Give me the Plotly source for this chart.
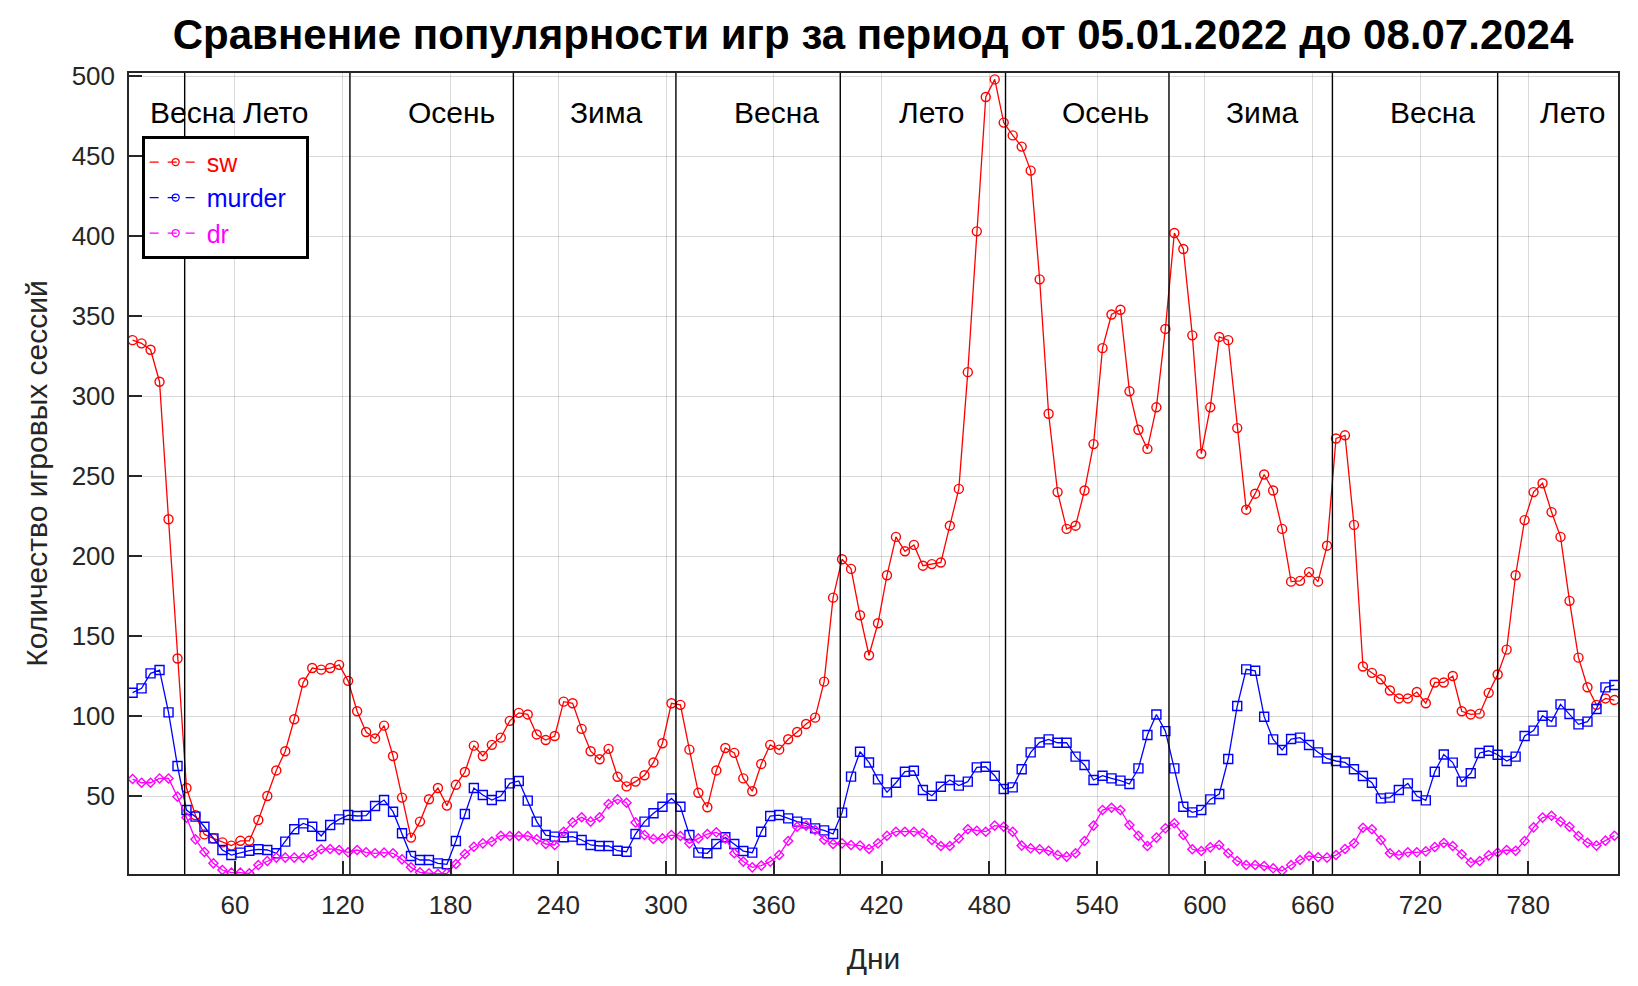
import plotly.graph_objects as go

# --- data -----------------------------------------------------------------
days = list(range(3, 829, 5))  # sampling grid (one point every 5 days)

sw = [
    335, 333, 329, 309, 223, 136, 55, 38, 26, 23.5,
    21, 19, 22, 22, 35, 50, 66, 78, 98, 121,
    130, 129, 130, 132, 122, 103, 90, 86, 94, 75,
    49, 24, 34, 48, 55, 44, 57, 65, 81.5, 75,
    82, 86.5, 97, 102, 101, 88.5, 85, 87.5, 109, 108,
    92, 78, 73, 79.5, 62, 56, 59, 63, 71, 83,
    108, 107, 79, 52, 43, 66, 80, 77, 61, 53,
    70, 82, 79, 85.5, 90, 95, 99, 121.5, 174, 198,
    192, 163, 138, 158, 188, 212, 203, 207, 194, 195,
    196, 219, 242, 315, 403, 487, 498, 471, 463, 456,
    441, 373, 289, 240, 217, 219, 241, 270, 330, 351,
    354, 303, 279, 267, 293, 342, 402, 392, 338, 264,
    293, 337, 335, 280, 229, 239, 251, 241, 217, 184,
    184.5, 190, 184, 206.5, 273.5, 275.5, 219.5, 131, 127, 123,
    116, 111, 111, 115, 108, 121, 121, 125, 103, 101,
    101.5, 114.5, 126, 141.5, 188, 222.5, 240, 245.5, 227.5, 212,
    172, 136.5, 118, 107, 111, 110,
]

murder = [
    114.6, 117.3, 126.7, 128.75, 102.3, 68.75, 41.25, 37.1, 30.8, 23.5,
    16.25, 13.1, 14.6, 15.8, 16.7, 16.25, 14.2, 21.5, 29.2, 32.9,
    30.8, 25, 31.9, 35.4, 38.1, 37.5, 37.7, 43.75, 47.5, 40.2,
    26.7, 12.5, 10, 10, 7.9, 7.3, 21.9, 38.75, 55, 50.6,
    47.5, 50, 57.9, 59.4, 47.1, 34, 25.6, 24.6, 24.2, 24.6,
    22.5, 19.4, 18.75, 18.75, 15.8, 15.2, 26.25, 34, 39.2, 43.3,
    48.5, 43.3, 25.6, 14.6, 14.2, 20, 24.2, 20, 15.6, 14.6,
    27.7, 37.5, 38.1, 36, 34, 32.9, 29.8, 28.5, 26.25, 39.6,
    62.1, 77.7, 71, 60.4, 52.3, 58.3, 65.2, 65.8, 53.75, 50.2,
    55.8, 60, 56.5, 59, 67.9, 68.3, 62.7, 54.4, 55.4, 66.7,
    77.3, 83.5, 85.4, 83.3, 83.3, 74.6, 69.4, 60, 62.7, 61,
    59.6, 57.5, 67.3, 88.1, 101, 90.6, 67.3, 43.3, 39.8, 41.25,
    47.9, 51.25, 73.1, 106.25, 129.2, 128.3, 99.6, 85.4, 78.75, 85.6,
    86.5, 81.9, 77.3, 73.5, 71.9, 71, 66.7, 62.5, 58.3, 48.5,
    49, 53.75, 57.9, 50, 47.3, 65.2, 76, 70.9, 59, 64.2,
    76.9, 78.3, 75.8, 71.9, 74.6, 87.5, 90.9, 100.2, 96.5, 107.3,
    101.25, 94.8, 96.5, 104.4, 117.9, 119.4,
]

dr = [
    60.6, 58.3, 58.3, 61, 61, 49.6, 36.5, 22.9, 15, 7.9,
    3.75, 2.1, 2.1, 1.7, 6.9, 9.4, 11.5, 11.5, 11.5, 11.5,
    13.1, 16.7, 16.9, 16.25, 14.8, 16.25, 14.8, 14.2, 14.6, 14.2,
    10.4, 5.4, 2.3, 1.7, 1.25, 1.7, 7.5, 13.75, 18.3, 20.4,
    21.5, 25.2, 25, 25, 25, 22.9, 20, 19.4, 27.7, 33.5,
    36.7, 34, 36.7, 45, 47.9, 45.8, 33.5, 25.6, 23.1, 23.5,
    25.6, 25, 20.4, 23.5, 26.25, 27.3, 23.5, 14.2, 9, 5.4,
    6.5, 9, 13.1, 21.9, 30.8, 31.5, 28.75, 22.7, 20, 20.4,
    19.4, 19, 16.9, 20.4, 25.2, 27.7, 27.7, 27.7, 26.7, 22.5,
    18.75, 18.75, 23.5, 29.2, 28.3, 27.7, 31.5, 30.8, 27.7, 19,
    17.3, 16.7, 15.8, 13.1, 12.1, 14.2, 21.9, 31.5, 41.25, 42.7,
    41.25, 31.9, 25.2, 18.75, 24, 29.8, 33, 25.6, 16.7, 15.6,
    17.9, 19.4, 14.2, 9.4, 6.9, 6.9, 6.25, 4.8, 3.3, 6.9,
    10, 12.5, 11.7, 11.5, 13.1, 16.9, 20.4, 30.2, 29.2, 22.5,
    14.2, 13.1, 14.8, 14.8, 15.4, 18.1, 20.6, 18.75, 13.6, 8.5,
    9.4, 12.9, 14.7, 16.25, 15.8, 21.9, 30.4, 36.5, 37.7, 34,
    30.8, 25, 20.8, 19, 22.1, 25.2,
]

season_bounds = [32, 124, 215, 305.5, 397, 489, 580, 671, 763]
season_names = ["Весна", "Лето", "Осень", "Зима", "Весна", "Лето",
                "Осень", "Зима", "Весна", "Лето"]
season_label_days = [11.5, 63.5, 155, 245.5, 336.5, 428.5, 519.5, 610.5, 702, 785.5]

x_ticks = [60, 120, 180, 240, 300, 360, 420, 480, 540, 600, 660, 720, 780]
y_ticks = [50, 100, 150, 200, 250, 300, 350, 400, 450, 500]

FONT = "Liberation Sans, Arial, Helvetica, sans-serif"
AX = "#262626"

fig = go.Figure()

series = [
    ("sw", sw, "#ff0000", "circle-open", 9),
    ("murder", murder, "#0000ff", "square-open", 9),
    ("dr", dr, "#ff00ff", "diamond-open", 7),
]
for name, vals, col, sym, sz in series:
    fig.add_trace(go.Scatter(
        x=days, y=vals, mode="lines+markers", name=name, showlegend=False,
        line=dict(color=col, width=1.3),
        marker=dict(symbol=sym, size=sz, color=col, line=dict(color=col, width=1.4)),
    ))
# legend entries (all drawn with a small circle, as in the original)
for name, vals, col, sym, sz in series:
    fig.add_trace(go.Scatter(
        x=[None], y=[None], mode="lines+markers",
        name=f'<span style="color:{col}">{name}</span>\u00a0\u00a0',
        line=dict(color=col, width=1.2, dash="dash"),
        marker=dict(symbol="circle-open", size=7, color=col, line=dict(color=col, width=1.3)),
    ))

# season boundaries
for b in season_bounds:
    fig.add_shape(type="line", xref="x", yref="paper", x0=b, x1=b, y0=0, y1=1,
                  line=dict(color="black", width=1.4), layer="above")

for lx, nm in zip(season_label_days, season_names):
    fig.add_annotation(x=lx, y=477, xref="x", yref="y", text=nm, showarrow=False,
                       xanchor="left", yanchor="middle",
                       font=dict(family=FONT, size=30, color="black"))

fig.update_layout(
    width=1638, height=986,
    margin=dict(l=129, r=20, t=73, b=112),
    paper_bgcolor="white", plot_bgcolor="white",
    font=dict(family=FONT, size=26, color=AX),
    title=dict(text="<b>Сравнение популярности игр за период от 05.01.2022 до 08.07.2024</b>",
               x=0.533, xanchor="center", y=1 - 34 / 986, yanchor="middle", yref="container",
               font=dict(family=FONT, size=42, color="black")),
    legend=dict(x=0.0085, y=0.921, xanchor="left", yanchor="top",
                bgcolor="white", bordercolor="black", borderwidth=3,
                font=dict(family=FONT, size=25), itemwidth=52),
    showlegend=True,
)

fig.update_xaxes(
    range=[1, 830], tickvals=x_ticks, ticks="inside", ticklen=13, tickwidth=1.5,
    tickcolor=AX, showline=True, linecolor=AX, linewidth=1.5, mirror=True,
    showgrid=True, gridcolor="rgba(0,0,0,0.15)", gridwidth=1.3, zeroline=False,
    tickfont=dict(family=FONT, size=26, color=AX), ticklabelstandoff=7,
    title=dict(text="Дни", font=dict(family=FONT, size=30, color=AX), standoff=29),
)
fig.update_yaxes(
    range=[1.25, 502], tickvals=y_ticks, ticks="inside", ticklen=13, tickwidth=1.5,
    tickcolor=AX, showline=True, linecolor=AX, linewidth=1.5, mirror=True,
    showgrid=True, gridcolor="rgba(0,0,0,0.15)", gridwidth=1.3, zeroline=False,
    tickfont=dict(family=FONT, size=26, color=AX), ticklabelstandoff=7,
    title=dict(text="Количество игровых сессий", font=dict(family=FONT, size=30, color=AX),
               standoff=15),
)

fig.write_html("out.html", config={"displayModeBar": False},
               post_script="document.body.style.margin='0';")
